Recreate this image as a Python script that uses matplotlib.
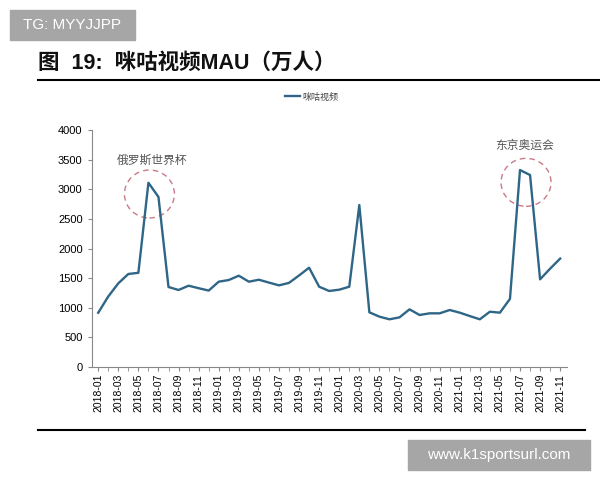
import matplotlib
matplotlib.use("Agg")
import matplotlib.pyplot as plt
from matplotlib.patches import Ellipse, Rectangle
from matplotlib.lines import Line2D

plt.rcParams["font.family"] = ["Liberation Sans", "Noto Sans CJK SC", "DejaVu Sans"]

months = [f"{y}-{m:02d}" for y in range(2018, 2022) for m in range(1, 13)][:47]
mau = [916, 1190, 1412, 1570, 1590, 3110, 2870, 1350, 1300, 1372, 1330, 1290,
       1440, 1468, 1541, 1440, 1473, 1425, 1378, 1420, 1545, 1676, 1355, 1283,
       1305, 1355, 2734, 923, 850, 805, 838, 973, 878, 906, 906, 962,
       917, 860, 805, 933, 917, 1150, 3325, 3240, 1480, 1660, 1830]
series_name = "咪咕视频"
events = [("俄罗斯世界杯", 5.1, 2920, 5.4, 3482), ("东京奥运会", 42.6, 3117, 42.5, 3747)]

fig = plt.figure(figsize=(6, 4.8), dpi=100)
ax = fig.add_axes([0.1528, 0.2354, 0.7917, 0.49375])

x = list(range(len(mau)))
ax.plot(x, mau, color="#2f6687", lw=1.7, solid_joinstyle="round", label=series_name)

ax.set_xlim(-0.65, len(mau) - 0.35)
ax.set_ylim(0, 4000)
ax.set_yticks(range(0, 4001, 500))
ax.set_xticks(x[::2])
ax.set_xticklabels(months[::2], rotation=90, fontsize=7.5)
ax.set_xticks(x, minor=True)
ax.tick_params(axis="y", labelsize=8, length=3, color="#888888")
ax.tick_params(axis="x", which="both", length=3, color="#888888", pad=2)
for s in ["top", "right"]:
    ax.spines[s].set_visible(False)
for s in ["left", "bottom"]:
    ax.spines[s].set_color("#888888")

for label, cx, cy, tx, ty in events:
    ax.add_patch(Ellipse((cx, cy), 4.98, 810, fill=False, ec="#c97a86",
                         ls=(0, (4, 3)), lw=1.0))
    ax.text(tx, ty, label, ha="center", va="center", fontsize=8.5,
            color="#555555", family=["Noto Sans CJK SC"])

fig.legend(loc="center", bbox_to_anchor=(0.52, 1 - 97 / 480), frameon=False,
           fontsize=6.5, handlelength=1.6, handletextpad=0.3, labelcolor="#444444")

fig.text(38 / 600, 1 - 63 / 480, "图  19:  咪咕视频MAU（万人）", fontsize=15.5,
         fontweight="bold", va="center", ha="left", color="#111111")
fig.add_artist(Line2D([38 / 600, 1.0], [1 - 80 / 480] * 2, color="black", lw=1.5))
fig.add_artist(Line2D([38 / 600, 585 / 600], [1 - 430 / 480] * 2, color="black", lw=1.5))

fig.add_artist(Rectangle((10 / 600, 1 - 40 / 480), 125 / 600, 30 / 480,
                         transform=fig.transFigure, color="#a6a6a6"))
fig.text(72 / 600, 1 - 25 / 480, "TG: MYYJJPP", color="white", fontsize=11,
         ha="center", va="center")
fig.add_artist(Rectangle((408 / 600, 1 - 470 / 480), 182 / 600, 30 / 480,
                         transform=fig.transFigure, color="#a6a6a6"))
fig.text(499 / 600, 1 - 455 / 480, "www.k1sportsurl.com", color="white", fontsize=11,
         ha="center", va="center")

fig.savefig("out.png", dpi=100)
